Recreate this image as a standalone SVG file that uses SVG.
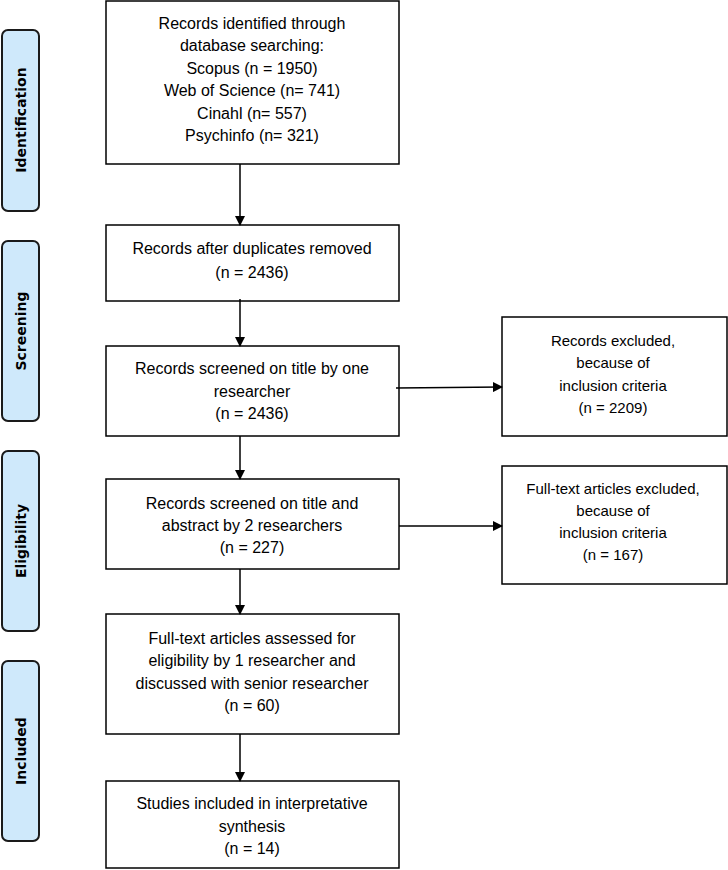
<svg xmlns="http://www.w3.org/2000/svg" width="728" height="870" viewBox="0 0 728 870">
<style>
.b{fill:#fff;stroke:#000;stroke-width:1.5}
.s{fill:#cfe9fb;stroke:#1a1a1a;stroke-width:2}
.t{font-family:"Liberation Sans",Arial,sans-serif;font-size:16px;text-anchor:middle;fill:#000}
.r{font-family:"Liberation Sans",Arial,sans-serif;font-size:15px;text-anchor:middle;fill:#000}
.l{font-family:"DejaVu Sans",sans-serif;font-size:14px;font-weight:bold;text-anchor:middle;fill:#000}
.c{stroke:#000;stroke-width:1.5;fill:none;marker-end:url(#a)}
</style>
<defs><marker id="a" markerWidth="10" markerHeight="10" refX="9" refY="5" orient="auto" markerUnits="userSpaceOnUse"><path d="M0,0 L10,5 L0,10 Z" fill="#000"/></marker></defs>
<g id="side-identification"><rect class="s" x="2" y="30" width="37" height="181" rx="6"/><text class="l" transform="translate(26,120) rotate(-90)">Identification</text></g>
<g id="side-screening"><rect class="s" x="2" y="241" width="37" height="180" rx="6"/><text class="l" transform="translate(26,331) rotate(-90)">Screening</text></g>
<g id="side-eligibility"><rect class="s" x="2" y="451" width="37" height="180" rx="6"/><text class="l" transform="translate(26,541) rotate(-90)">Eligibility</text></g>
<g id="side-included"><rect class="s" x="2" y="661" width="37" height="180" rx="6"/><text class="l" transform="translate(26,751) rotate(-90)">Included</text></g>
<g id="n1"><rect class="b" x="106" y="1" width="293" height="163"/>
<text class="t" x="252" y="29">Records identified through</text><text class="t" x="252" y="51">database searching:</text><text class="t" x="252" y="74">Scopus (n = 1950)</text><text class="t" x="252" y="96">Web of Science (n= 741)</text><text class="t" x="252" y="119">Cinahl (n= 557)</text><text class="t" x="252" y="141">Psychinfo (n= 321)</text></g>
<g id="n2"><rect class="b" x="106" y="225" width="293" height="76"/><text class="t" x="252" y="254">Records after duplicates removed</text><text class="t" x="252" y="278">(n =  2436)</text></g>
<g id="n3"><rect class="b" x="106" y="346" width="293" height="90"/><text class="t" x="252" y="374">Records screened on title by one</text><text class="t" x="252" y="397">researcher</text><text class="t" x="252" y="419">(n =  2436)</text></g>
<g id="r1"><rect class="b" x="502" y="317" width="225" height="119"/><text class="r" x="613" y="346">Records excluded,</text><text class="r" x="613" y="368">because of</text><text class="r" x="613" y="391">inclusion criteria</text><text class="r" x="613" y="413">(n =  2209)</text></g>
<g id="n4"><rect class="b" x="106" y="479" width="293" height="90"/><text class="t" x="252" y="509">Records screened on title and</text><text class="t" x="252" y="531">abstract by 2 researchers</text><text class="t" x="252" y="553">(n =  227)</text></g>
<g id="r2"><rect class="b" x="502" y="466" width="225" height="118"/><text class="r" x="613" y="494">Full-text articles excluded,</text><text class="r" x="613" y="516">because of</text><text class="r" x="613" y="538">inclusion criteria</text><text class="r" x="613" y="560">(n = 167)</text></g>
<g id="n5"><rect class="b" x="106" y="614" width="293" height="120"/><text class="t" x="252" y="644">Full-text articles assessed for</text><text class="t" x="252" y="666">eligibility by 1 researcher and</text><text class="t" x="252" y="689">discussed with senior researcher</text><text class="t" x="252" y="711">(n =   60)</text></g>
<g id="n6"><rect class="b" x="106" y="781" width="293" height="87"/><text class="t" x="252" y="809">Studies included in interpretative</text><text class="t" x="252" y="832">synthesis</text><text class="t" x="252" y="854">(n = 14)</text></g>
<g id="connectors">
<path class="c" d="M240,164 V225"/>
<path class="c" d="M240,299 V346"/>
<path class="c" d="M240,436 V479"/>
<path class="c" d="M240,569 V614"/>
<path class="c" d="M240,734 V781"/>
<path class="c" d="M396,388 L502,387"/>
<path class="c" d="M399,526 H502"/>
</g>
</svg>
